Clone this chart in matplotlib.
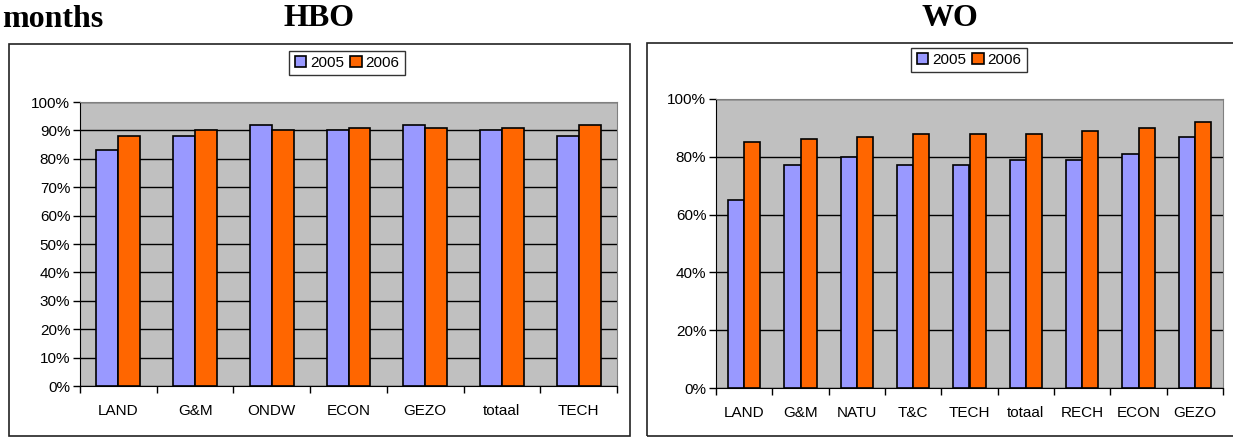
import matplotlib.pyplot as plt
import numpy as np
from matplotlib.patches import Rectangle
from matplotlib.ticker import PercentFormatter

# HBO data
hbo_cats = ['LAND', 'G&M', 'ONDW', 'ECON', 'GEZO', 'totaal', 'TECH']
hbo_2005 = [83, 88, 92, 90, 92, 90, 88]
hbo_2006 = [88, 90, 90, 91, 91, 91, 92]

# WO data
wo_cats = ['LAND', 'G&M', 'NATU', 'T&C', 'TECH', 'totaal', 'RECH', 'ECON', 'GEZO']
wo_2005 = [65, 77, 80, 77, 77, 79, 79, 81, 87]
wo_2006 = [85, 86, 87, 88, 88, 88, 89, 90, 92]

years = ['2005', '2006']
colors = ['#9999FF', '#FF6600']

plt.rcParams['font.family'] = ['Liberation Sans', 'DejaVu Sans']

W, H = 1233, 437
fig = plt.figure(figsize=(W / 100, H / 100), dpi=100)


def fbox(x0, y0, x1, y1):
    # pixel coords (top-left origin) -> figure fraction
    return [x0 / W, 1 - y1 / H, (x1 - x0) / W, (y1 - y0) / H]


def panel(box, axbox, cats, s1, s2, ystep, legxy):
    b = fbox(*box)
    fig.patches.append(Rectangle((b[0], b[1]), b[2], b[3], transform=fig.transFigure,
                                 facecolor='none', edgecolor='#222222', lw=1.2))
    ax = fig.add_axes(fbox(*axbox))
    ax.set_facecolor('#C0C0C0')
    x = np.arange(len(cats))
    w = 0.286
    b1 = ax.bar(x - w / 2, s1, w, color=colors[0], edgecolor='black', lw=1.2, zorder=3, label=years[0])
    b2 = ax.bar(x + w / 2, s2, w, color=colors[1], edgecolor='black', lw=1.2, zorder=3, label=years[1])
    ax.set_xlim(-0.5, len(cats) - 0.5)
    ax.set_ylim(0, 100)
    ax.set_yticks(np.arange(0, 101, ystep))
    ax.yaxis.set_major_formatter(PercentFormatter(decimals=0))
    ax.grid(axis='y', color='black', lw=1.0, zorder=1)
    ax.set_axisbelow(True)
    ax.set_xticks(x)
    ax.set_xticklabels(cats)
    ax.set_xticks(np.arange(-0.5, len(cats), 1), minor=True)
    ax.tick_params(axis='x', which='major', length=0, pad=13, labelsize=11)
    ax.tick_params(axis='x', which='minor', length=5, width=1, direction='out')
    ax.tick_params(axis='y', length=5, width=1, direction='out', labelsize=11, pad=2)
    for s in ['top', 'right']:
        ax.spines[s].set_color('#808080')
    for s in ['left', 'bottom']:
        ax.spines[s].set_color('black')
    fig.legend(handles=[b1, b2], labels=years, loc='center', bbox_to_anchor=legxy,
               bbox_transform=fig.transFigure, ncol=2, fontsize=11, frameon=True,
               fancybox=False, edgecolor='black', handlelength=0.75, handleheight=0.75,
               handletextpad=0.25, columnspacing=0.4, borderpad=0.35, borderaxespad=0)
    return ax


panel((9, 44, 630, 436), (80, 102, 617, 386), hbo_cats, hbo_2005, hbo_2006, 10,
      (347 / W, 1 - 63 / H))
panel((647, 43, 1240, 436), (716, 99, 1223, 388), wo_cats, wo_2005, wo_2006, 20,
      (969 / W, 1 - 60 / H))

title_kw = dict(family='Liberation Serif', fontweight='bold', fontsize=23, va='baseline')
fig.text(2 / W, 1 - 27 / H, 'months', ha='left', **title_kw)
fig.text(319 / W, 1 - 26 / H, 'HBO', ha='center', **title_kw)
fig.text(950 / W, 1 - 26 / H, 'WO', ha='center', **title_kw)

fig.savefig('out.png', dpi=100)
